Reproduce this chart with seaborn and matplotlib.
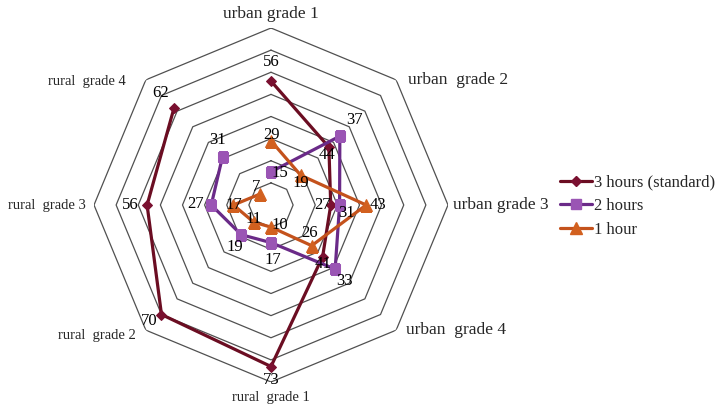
import numpy as np
import pandas as pd
import matplotlib
matplotlib.use("Agg")
import matplotlib.pyplot as plt
from matplotlib.lines import Line2D
import seaborn as sns

categories = ["urban grade 1", "urban  grade 2", "urban grade 3", "urban  grade 4",
              "rural  grade 1", "rural  grade 2", "rural  grade 3", "rural  grade 4"]
series_names = ["3 hours (standard)", "2 hours", "1 hour"]
hours_3 = [56, 37, 27, 33, 73, 70, 56, 62]
hours_2 = [15, 44, 31, 41, 17, 19, 27, 31]
hours_1 = [29, 19, 43, 26, 10, 11, 17, 7]
rings = [10, 20, 30, 40, 50, 60, 70, 80]

# label offsets in pixels (dx right, dy down)
off_3 = [(0, -19), (26, -27), (-8, 0), (22, 24), (0, 13), (-12, 6), (-17, 0), (-13, -15)]
off_2 = [(9, 1), (-13, 19), (7, 8), (-12, -5), (2, 17), (-6, 12), (-16, -1), (-5, -17)]
off_1 = [(0, -6), (0, 8), (12, 0), (-2, -13), (9, -2), (0, -3), (0, 0), (-4, -7)]

sns.set_theme(style="white")
plt.rcParams['font.family'] = ['Liberation Serif', 'DejaVu Serif']

W, H = 720, 411
fig = plt.figure(figsize=(W / 100, H / 100), dpi=100)
cx, cy, R = 271, 205, 177
ax = fig.add_axes([(cx - R) / W, (H - cy - R) / H, 2 * R / W, 2 * R / H], projection="polar")
ax.set_theta_zero_location("N")
ax.set_theta_direction(-1)
ax.set_ylim(0, 80)
ax.grid(False)
ax.set_xticks([])
ax.set_yticks([])
ax.spines["polar"].set_visible(False)
ax.set_facecolor("none")

n = len(categories)
theta = np.linspace(0, 2 * np.pi, n, endpoint=False)
theta_c = np.append(theta, theta[0])

for r in rings:
    ax.plot(theta_c, [r] * (n + 1), color="#505050", lw=0.9, zorder=1)

styles = [
    (hours_3, off_3, "#6b0d22", "#7a1030", "D", 5),
    (hours_2, off_2, "#6a2a88", "#9a55b4", "s", 7.5),
    (hours_1, off_1, "#c4521c", "#d2601f", "^", 8),
]

px2pt = 72 / 100
handles = []
for name, (vals, offs, lc, mc, mk, ms) in zip(series_names, styles):
    df = pd.DataFrame({"theta": theta_c, "r": vals + vals[:1]})
    sns.lineplot(data=df, x="theta", y="r", ax=ax, sort=False, color=lc, lw=2.3,
                 marker=mk, markersize=ms, markerfacecolor=mc, markeredgecolor=mc,
                 zorder=3)
    for t, v, (dx, dy) in zip(theta, vals, offs):
        ax.annotate(str(v), xy=(t, v), xytext=(dx * px2pt, -dy * px2pt),
                    textcoords="offset points", ha="center", va="center",
                    fontsize=12, color="black", zorder=5)
    handles.append(Line2D([0], [0], color=lc, lw=2.3, marker=mk, markersize=ms,
                          markerfacecolor=mc, markeredgecolor=mc))

ax.set_xlabel("")
ax.set_ylabel("")

# category labels: (ha, va, dx px, dy px) relative to outer vertex
cat_pos = [("center", "center", 0, -14), ("left", "center", 12, 0),
           ("left", "center", 5, 0), ("left", "center", 10, 0),
           ("center", "center", 0, 15), ("right", "center", -10, 5),
           ("right", "center", -8, 0), ("right", "center", -20, 2)]
for t, lab, (ha, va, dx, dy) in zip(theta, categories, cat_pos):
    fs = 12.5 if lab.startswith("urban") else 10.5
    ax.annotate(lab, xy=(t, 80), xytext=(dx * px2pt, -dy * px2pt),
                textcoords="offset points", ha=ha, va=va, fontsize=fs,
                annotation_clip=False)

fig.legend(handles, series_names, loc="center left",
           bbox_to_anchor=(552 / W, 1 - 206 / H), frameon=False, fontsize=12,
           handlelength=1.9, handletextpad=0.1, labelspacing=0.45, borderpad=0)

fig.savefig("out.png", dpi=100)
